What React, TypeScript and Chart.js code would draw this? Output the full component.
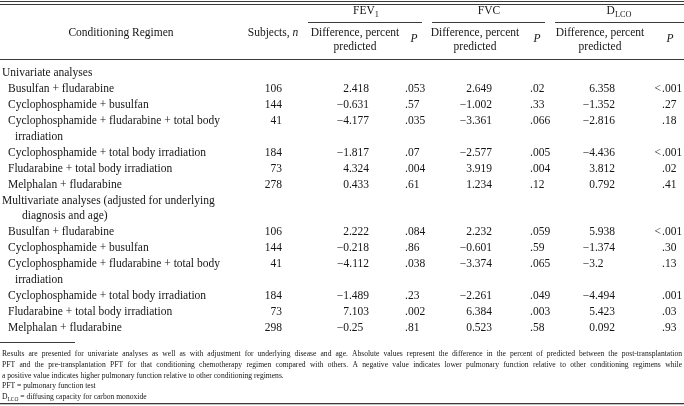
import React, { useEffect, useRef } from "react";
import { Chart, registerables } from "chart.js";

Chart.register(...registerables);

// ---------------- DATA ----------------
const sectionTitles: string[][] = [
  ["Univariate analyses"],
  ["Multivariate analyses (adjusted for underlying", "diagnosis and age)"],
];

const regimenLines: string[][] = [
  ["Busulfan + fludarabine"],
  ["Cyclophosphamide + busulfan"],
  ["Cyclophosphamide + fludarabine + total body", "irradiation"],
  ["Cyclophosphamide + total body irradiation"],
  ["Fludarabine + total body irradiation"],
  ["Melphalan + fludarabine"],
];

// Univariate
const uniSubjects = [106, 144, 41, 184, 73, 278];
const uniFev1Diff = [2.418, -0.631, -4.177, -1.817, 4.324, 0.433];
const uniFev1P = [".053", ".57", ".035", ".07", ".004", ".61"];
const uniFvcDiff = [2.649, -1.002, -3.361, -2.577, 3.919, 1.234];
const uniFvcP = [".02", ".33", ".066", ".005", ".004", ".12"];
const uniDlcoDiff = [6.358, -1.352, -2.816, -4.436, 3.812, 0.792];
const uniDlcoP = ["<.001", ".27", ".18", "<.001", ".02", ".41"];

// Multivariate
const multiSubjects = [106, 144, 41, 184, 73, 298];
const multiFev1Diff = [2.222, -0.218, -4.112, -1.489, 7.103, -0.25];
const multiFev1P = [".084", ".86", ".038", ".23", ".002", ".81"];
const multiFvcDiff = [2.232, -0.601, -3.374, -2.261, 6.384, 0.523];
const multiFvcP = [".059", ".59", ".065", ".049", ".003", ".58"];
const multiDlcoDiff = [5.938, -1.374, -3.2, -4.494, 5.423, 0.092];
const multiDlcoP = ["<.001", ".30", ".13", ".001", ".03", ".93"];

const footnoteLines: string[] = [
  "Results are presented for univariate analyses as well as with adjustment for underlying disease and age. Absolute values represent the difference in the percent of predicted between the post-transplantation",
  "PFT and the pre-transplantation PFT for that conditioning chemotherapy regimen compared with others. A negative value indicates lower pulmonary function relative to other conditioning regimens while",
  "a positive value indicates higher pulmonary function relative to other conditioning regimens.",
  "PFT = pulmonary function test",
  "= diffusing capacity for carbon monoxide",
];

// ---------------- STYLE / LAYOUT ----------------
const W = 684;
const H = 406;
const FONT = '"Liberation Serif", "Times New Roman", serif';
const MAIN = 11.5;
const FOOT = 7.6;
const INK = "#151515";
const RULE = "#3a3a3a";
const ROW_TOP = 73;
const ROW_BOTTOM = 328;

const indentX = [2, 22, 8, 15]; // section, section-cont, regimen, regimen-cont

type Align = "left" | "decimal" | "p" | "right";
const columns: { key: string; x: number; align: Align }[] = [
  { key: "subjects", x: 282, align: "right" },
  { key: "fev1Diff", x: 369, align: "decimal" },
  { key: "fev1P", x: 405, align: "p" },
  { key: "fvcDiff", x: 492, align: "decimal" },
  { key: "fvcP", x: 530, align: "p" },
  { key: "dlcoDiff", x: 615, align: "decimal" },
  { key: "dlcoP", x: 662, align: "p" },
];

// ---------------- BUILD ROWS ----------------
type Row = { text: string; level: number; cells: string[] | null };
const fmt = (v: number) => String(v).replace("-", "\u2212");

function buildRows(): Row[] {
  const rows: Row[] = [];
  const sets = [
    [uniSubjects, uniFev1Diff, uniFev1P, uniFvcDiff, uniFvcP, uniDlcoDiff, uniDlcoP],
    [multiSubjects, multiFev1Diff, multiFev1P, multiFvcDiff, multiFvcP, multiDlcoDiff, multiDlcoP],
  ];
  sectionTitles.forEach((lines, s) => {
    lines.forEach((t, li) => rows.push({ text: t, level: li === 0 ? 0 : 1, cells: null }));
    regimenLines.forEach((lines2, r) => {
      const cells = sets[s].map((arr: any[], c) =>
        c === 0 ? String(arr[r]) : typeof arr[r] === "number" ? fmt(arr[r]) : String(arr[r])
      );
      lines2.forEach((t, li) =>
        rows.push({ text: t, level: li === 0 ? 2 : 3, cells: li === 0 ? cells : null })
      );
    });
  });
  return rows;
}

const font = (size: number, italic = false) => `${italic ? "italic " : ""}${size}px ${FONT}`;
type Seg = { t: string; sub?: boolean; it?: boolean };

function richWidth(ctx: CanvasRenderingContext2D, segs: Seg[], size: number) {
  let w = 0;
  for (const s of segs) {
    ctx.font = font(s.sub ? size * 0.72 : size, s.it);
    w += ctx.measureText(s.t).width;
  }
  return w;
}

function drawRich(
  ctx: CanvasRenderingContext2D,
  segs: Seg[],
  x: number,
  y: number,
  size: number,
  align: "left" | "center" | "right"
) {
  const w = richWidth(ctx, segs, size);
  let cx = align === "center" ? x - w / 2 : align === "right" ? x - w : x;
  ctx.textAlign = "left";
  ctx.textBaseline = "middle";
  for (const s of segs) {
    const sz = s.sub ? size * 0.72 : size;
    ctx.font = font(sz, s.it);
    ctx.fillText(s.t, cx, s.sub ? y + size * 0.3 : y);
    cx += ctx.measureText(s.t).width;
  }
}

function drawJustified(ctx: CanvasRenderingContext2D, text: string, x0: number, x1: number, y: number) {
  const words = text.split(" ");
  const ww = words.map((w) => ctx.measureText(w).width);
  const total = ww.reduce((a, b) => a + b, 0);
  const gap = (x1 - x0 - total) / (words.length - 1);
  let x = x0;
  ctx.textAlign = "left";
  words.forEach((w, i) => {
    ctx.fillText(w, x, y);
    x += ww[i] + gap;
  });
}

const tablePlugin = {
  id: "tablePlugin",
  afterDatasetsDraw(chart: any) {
    const ctx: CanvasRenderingContext2D = chart.ctx;
    ctx.save();
    ctx.fillStyle = RULE;
    // rules
    ctx.fillRect(0, 1, W, 1);
    ctx.fillRect(0, 4, W, 1);
    ctx.fillRect(308, 22, 114, 1);
    ctx.fillRect(432, 22, 113, 1);
    ctx.fillRect(555, 22, 129, 1);
    ctx.fillRect(0, 59, W, 1);
    ctx.fillRect(0, 342, 75, 1);
    ctx.fillRect(0, 403, W, 1.3);

    ctx.fillStyle = INK;
    // header
    drawRich(ctx, [{ t: "Conditioning Regimen" }], 121, 33, MAIN, "center");
    drawRich(ctx, [{ t: "Subjects, " }, { t: "n", it: true }], 273, 33, MAIN, "center");
    drawRich(ctx, [{ t: "FEV" }, { t: "1", sub: true }], 366, 11, MAIN, "center");
    drawRich(ctx, [{ t: "FVC" }], 489, 11, MAIN, "center");
    drawRich(ctx, [{ t: "D" }, { t: "LCO", sub: true }], 619, 11, MAIN, "center");
    [355, 475, 600].forEach((cx) => {
      drawRich(ctx, [{ t: "Difference, percent" }], cx, 33, MAIN, "center");
      drawRich(ctx, [{ t: "predicted" }], cx, 47, MAIN, "center");
    });
    [414, 537, 670].forEach((cx) => drawRich(ctx, [{ t: "P", it: true }], cx, 39, MAIN, "center"));

    // body cells from dataset elements
    ctx.font = font(MAIN);
    ctx.textBaseline = "middle";
    const zeroW = ctx.measureText("0").width;
    chart.data.datasets.forEach((ds: any, i: number) => {
      const meta = chart.getDatasetMeta(i);
      meta.data.forEach((el: any, j: number) => {
        const t: string = ds.texts[j];
        const x = el.x;
        const y = el.y;
        ctx.font = font(MAIN);
        if (ds.cellAlign === "left") {
          ctx.textAlign = "left";
          ctx.fillText(t, x, y);
        } else if (ds.cellAlign === "right") {
          ctx.textAlign = "right";
          ctx.fillText(t, x, y);
        } else if (ds.cellAlign === "decimal") {
          const dec = (t.split(".")[1] || "").length;
          ctx.textAlign = "right";
          ctx.fillText(t, x - (3 - dec) * zeroW, y);
        } else {
          ctx.textAlign = "left";
          if (t.startsWith("<")) {
            ctx.textAlign = "right";
            ctx.fillText("<", x - 1, y);
            ctx.textAlign = "left";
            ctx.fillText(t.slice(1), x, y);
          } else ctx.fillText(t, x, y);
        }
      });
    });

    // footnotes
    ctx.font = font(FOOT);
    ctx.textBaseline = "middle";
    const fy = [354, 364.8, 375.6, 386.4, 397.2];
    drawJustified(ctx, footnoteLines[0], 2, 682, fy[0]);
    drawJustified(ctx, footnoteLines[1], 2, 682, fy[1]);
    ctx.textAlign = "left";
    ctx.fillText(footnoteLines[2], 2, fy[2]);
    ctx.fillText(footnoteLines[3], 2, fy[3]);
    drawRich(ctx, [{ t: "D" }, { t: "LCO", sub: true }, { t: " " + footnoteLines[4] }], 2, fy[4], FOOT, "left");
    ctx.restore();
  },
};

export default function App() {
  const ref = useRef<HTMLCanvasElement | null>(null);
  useEffect(() => {
    document.body.style.margin = "0";
    const canvas = ref.current!;
    const rows = buildRows();
    const datasets: any[] = [];
    datasets.push({
      label: "labels",
      data: rows.map((r, i) => ({ x: indentX[r.level], y: i })),
      texts: rows.map((r) => r.text),
      cellAlign: "left",
      pointRadius: 0,
      showLine: false,
    });
    columns.forEach((col, c) => {
      const data: any[] = [];
      const texts: string[] = [];
      rows.forEach((r, i) => {
        if (r.cells) {
          data.push({ x: col.x, y: i });
          texts.push(r.cells[c]);
        }
      });
      datasets.push({ label: col.key, data, texts, cellAlign: col.align, pointRadius: 0, showLine: false });
    });
    const chart = new Chart(canvas, {
      type: "scatter",
      data: { datasets },
      options: {
        responsive: false,
        animation: false,
        devicePixelRatio: 1,
        events: [],
        layout: { padding: { top: ROW_TOP, bottom: H - ROW_BOTTOM, left: 0, right: 0 } },
        scales: {
          x: { type: "linear", min: 0, max: W, display: false },
          y: { type: "linear", min: 0, max: rows.length - 1, reverse: true, display: false },
        },
        plugins: { legend: { display: false }, tooltip: { enabled: false } },
      } as any,
      plugins: [tablePlugin],
    });
    return () => chart.destroy();
  }, []);
  return (
    <div style={{ width: W, height: H, background: "#fff" }}>
      <canvas ref={ref} width={W} height={H} style={{ display: "block" }} />
    </div>
  );
}
